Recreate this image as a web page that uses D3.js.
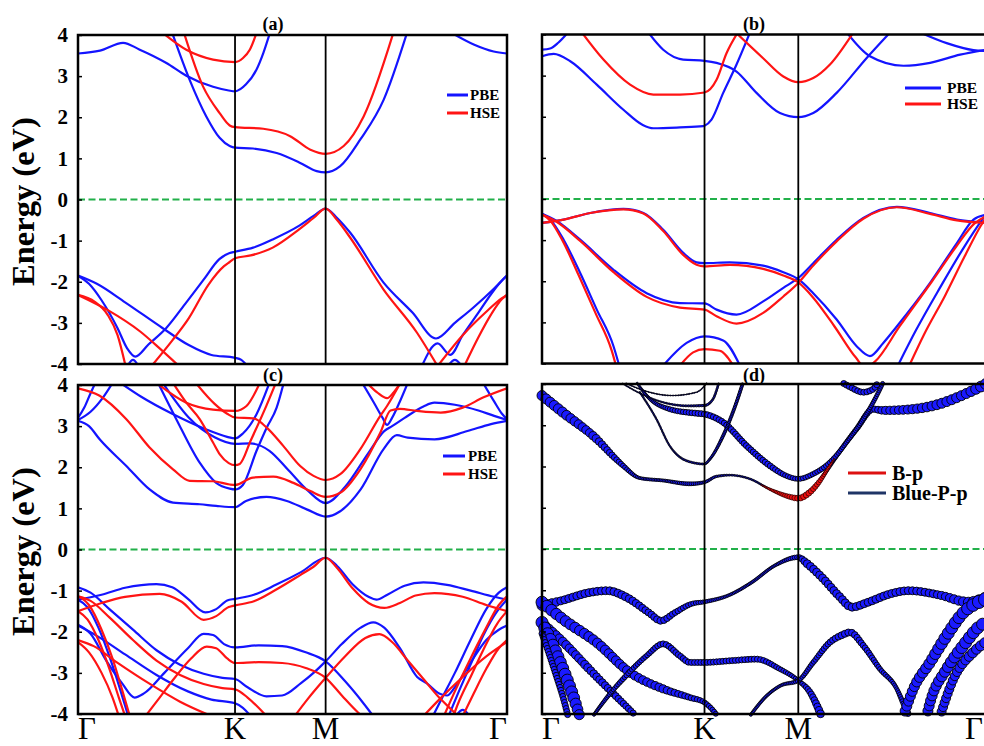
<!DOCTYPE html>
<html><head><meta charset="utf-8">
<script src="https://cdn.jsdelivr.net/npm/d3@7"></script>
<style>body{margin:0;background:#fff}svg{display:block}</style>
</head><body>
<svg id="chart" width="984" height="746"></svg>
<script>
// ---------- tick / label data ----------
const kTicks = [0, 1, 1.577, 2.732];
const kLabels = ["Γ", "K", "M", "Γ"];
const eTicks = [-4, -3, -2, -1, 0, 1, 2, 3, 4];
const panelTitles = ["(a)", "(b)", "(c)", "(d)"];
const legendAC = ["PBE", "HSE"];
const legendD = ["B-p", "Blue-P-p"];
const yTitle = "Energy (eV)";

// ---------- panel (a) ----------
const aPBE = [
 [[0,3.55],[0.14,3.62],[0.287,3.81],[0.39,3.65],[0.563,3.32],[0.69,3.01],[0.86,2.74],[0.96,2.65],[1.0,2.63],[1.07,2.8],[1.137,3.16],[1.18,3.56],[1.222,4.05]],
 [[2.38,4.05],[2.52,3.77],[2.647,3.6],[2.732,3.55]],
 [[0.6,4.05],[0.711,2.91],[0.817,2.02],[0.902,1.5],[0.966,1.3],[1.0,1.26],[1.115,1.24],[1.265,1.13],[1.415,0.89],[1.52,0.69],[1.577,0.66],[1.67,0.81],[1.798,1.46],[1.947,2.43],[2.095,4.05]],
 [[0,-1.85],[0.07,-2.05],[0.15,-2.45],[0.252,-3.13],[0.313,-3.62],[0.365,-3.82],[0.45,-3.52],[0.561,-3.13],[0.69,-2.5],[0.8,-1.95],[0.9,-1.45],[0.966,-1.3],[1.0,-1.27],[1.115,-1.17],[1.24,-0.97],[1.412,-0.63],[1.5,-0.4],[1.577,-0.22],[1.65,-0.45],[1.734,-0.81],[1.946,-2.02],[2.13,-2.75],[2.28,-3.38],[2.4,-3.0],[2.52,-2.62],[2.64,-2.2],[2.7,-1.97],[2.732,-1.85]],
 [[0,-1.85],[0.12,-2.05],[0.3,-2.5],[0.54,-3.13],[0.705,-3.54],[0.85,-3.78],[1.0,-3.85],[1.04,-3.9],[1.08,-4.05]],
 [[0.31,-4.08],[0.35,-3.9],[0.39,-4.08]],
 [[2.19,-4.05],[2.29,-3.5],[2.37,-3.78],[2.45,-3.3],[2.55,-2.75],[2.65,-2.2],[2.7,-1.97],[2.732,-1.85]],
 [[2.35,-4.08],[2.4,-3.9],[2.45,-4.08]]
];
const aHSE = [
 [[0.54,4.05],[0.69,3.64],[0.86,3.4],[1.0,3.34],[1.051,3.44],[1.094,3.64],[1.137,4.05]],
 [[0.675,4.05],[0.796,2.75],[0.902,2.1],[0.966,1.8],[1.0,1.76],[1.18,1.72],[1.351,1.54],[1.48,1.21],[1.577,1.11],[1.692,1.3],[1.819,2.02],[2.008,4.05]],
 [[0.468,-4.05],[0.602,-3.42],[0.705,-2.89],[0.829,-2.08],[0.93,-1.62],[0.966,-1.52],[1.0,-1.43],[1.1,-1.36],[1.24,-1.17],[1.4,-0.75],[1.5,-0.45],[1.577,-0.22],[1.65,-0.5],[1.734,-0.93],[1.946,-2.19],[2.159,-3.24],[2.29,-4.05]],
 [[0,-2.32],[0.19,-2.69],[0.396,-3.21],[0.52,-3.62],[0.643,-4.05]],
 [[0,-2.32],[0.107,-2.49],[0.19,-2.81],[0.252,-3.3],[0.303,-4.05]],
 [[2.29,-4.05],[2.45,-3.3],[2.6,-2.73],[2.7,-2.4],[2.732,-2.32]],
 [[2.46,-4.05],[2.55,-3.35],[2.63,-2.8],[2.7,-2.42],[2.732,-2.32]]
];

// ---------- panel (b) ----------
const bPBE = [
 [[0,3.63],[0.05,3.66],[0.1,3.8],[0.16,4.05]],
 [[0,3.47],[0.072,3.53],[0.174,3.35],[0.337,2.78],[0.501,2.17],[0.62,1.8],[0.685,1.72],[0.849,1.74],[0.992,1.77],[1.0,1.78],[1.043,1.93],[1.115,2.58],[1.197,3.27],[1.28,4.05]],
 [[0.654,4.05],[0.746,3.63],[0.869,3.39],[1.0,3.36],[1.074,3.31],[1.197,3.1],[1.32,2.58],[1.464,2.09],[1.577,1.99],[1.669,2.09],[1.813,2.58],[1.998,3.43],[2.142,4.05]],
 [[1.875,4.05],[2.018,3.47],[2.224,3.24],[2.388,3.31],[2.573,3.51],[2.732,3.63]],
 [[2.326,4.05],[2.49,3.79],[2.655,3.62],[2.732,3.6]],
 [[0,-0.58],[0.133,-0.5],[0.297,-0.34],[0.501,-0.24],[0.624,-0.34],[0.746,-0.75],[0.869,-1.31],[0.951,-1.54],[1.0,-1.56],[1.156,-1.54],[1.361,-1.62],[1.485,-1.78],[1.577,-1.95],[1.669,-2.29],[1.813,-2.93],[1.936,-3.58],[2.018,-3.82],[2.1,-3.5],[2.183,-3.1],[2.388,-2.04],[2.553,-1.07],[2.655,-0.5],[2.732,-0.38]],
 [[0,-0.36],[0.092,-0.54],[0.235,-0.99],[0.44,-1.72],[0.644,-2.29],[0.849,-2.53],[1.0,-2.54],[1.074,-2.69],[1.197,-2.81],[1.361,-2.49],[1.485,-2.16],[1.577,-1.92],[1.669,-1.56],[1.813,-0.99],[1.977,-0.46],[2.183,-0.19],[2.388,-0.34],[2.553,-0.5],[2.732,-0.57]],
 [[0,-0.36],[0.05,-0.5],[0.133,-0.99],[0.235,-1.8],[0.337,-2.69],[0.44,-3.58],[0.475,-4.05]],
 [[2.19,-4.05],[2.3,-3.2],[2.45,-2.15],[2.6,-1.15],[2.7,-0.55],[2.732,-0.38]],
 [[0.746,-4.05],[0.89,-3.5],[1.0,-3.34],[1.115,-3.44],[1.218,-4.05]]
];
const bHSE = [
 [[0.245,4.05],[0.378,3.39],[0.542,2.78],[0.685,2.54],[0.849,2.54],[1.0,2.59],[1.074,2.9],[1.136,3.55],[1.2,4.02]],
 [[1.2,4.02],[1.359,3.43],[1.485,2.98],[1.577,2.84],[1.669,2.94],[1.772,3.27],[1.916,4.05]],
 [[0,-0.58],[0.133,-0.5],[0.297,-0.34],[0.501,-0.25],[0.624,-0.35],[0.746,-0.78],[0.869,-1.36],[0.951,-1.6],[1.0,-1.64],[1.156,-1.6],[1.361,-1.7],[1.485,-1.86],[1.577,-2.03],[1.669,-2.4],[1.8,-3.1],[1.93,-3.85],[1.99,-4.1],[2.05,-3.95],[2.2,-3.1],[2.4,-2.0],[2.55,-1.15],[2.66,-0.6],[2.732,-0.42]],
 [[0,-0.38],[0.092,-0.56],[0.235,-1.02],[0.44,-1.78],[0.644,-2.38],[0.849,-2.64],[1.0,-2.69],[1.074,-2.85],[1.197,-3.03],[1.361,-2.77],[1.485,-2.37],[1.577,-2.04],[1.669,-1.62],[1.813,-1.03],[1.977,-0.48],[2.183,-0.2],[2.388,-0.36],[2.553,-0.52],[2.732,-0.58]],
 [[0,-0.38],[0.05,-0.52],[0.125,-1.0],[0.225,-1.85],[0.33,-2.78],[0.43,-3.7],[0.455,-4.05]],
 [[2.26,-4.05],[2.35,-3.3],[2.48,-2.35],[2.6,-1.4],[2.7,-0.65],[2.732,-0.45]],
 [[0.849,-4.05],[0.93,-3.73],[1.0,-3.65],[1.094,-3.69],[1.177,-4.05]]
];

// ---------- panel (c) ----------
const cPBE = [
 [[0,3.15],[0.08,3.35],[0.16,3.7],[0.22,4.05]],
 [[0,3.2],[0.04,3.45],[0.08,3.8],[0.11,4.05]],
 [[0,3.13],[0.07,3.0],[0.138,2.68],[0.308,2.03],[0.456,1.46],[0.605,1.14],[0.775,1.1],[0.88,1.06],[1.0,1.03],[1.07,1.18],[1.2,1.28],[1.33,1.18],[1.46,0.97],[1.577,0.8],[1.67,0.93],[1.8,1.46],[1.946,2.44],[2.03,2.78],[2.1,2.72],[2.27,2.68],[2.48,2.88],[2.63,3.05],[2.732,3.13]],
 [[0.51,4.05],[0.626,3.17],[0.775,2.11],[0.88,1.62],[0.966,1.48],[1.0,1.46],[1.05,1.57],[1.137,2.4],[1.2,2.95],[1.265,3.45],[1.31,4.05]],
 [[0.27,4.05],[0.4,3.72],[0.6,3.3],[0.81,2.93],[0.95,2.74],[1.0,2.7],[1.05,2.82],[1.137,3.29],[1.219,4.05]],
 [[0.54,4.05],[0.705,3.21],[0.87,2.73],[1.0,2.57],[1.096,2.58],[1.219,2.4],[1.342,1.92],[1.464,1.43],[1.577,1.13],[1.7,1.52],[1.85,2.35],[1.95,2.88],[2.0,3.0],[2.08,3.2],[2.2,3.48],[2.27,3.57],[2.4,3.52],[2.55,3.38],[2.65,3.25],[2.732,3.15]],
 [[1.81,4.05],[1.88,3.6],[1.94,3.2],[1.968,3.03],[2.0,3.2],[2.05,3.6],[2.1,4.05]],
 [[2.58,4.05],[2.65,3.6],[2.7,3.3],[2.732,3.17]],
 [[0,-1.22],[0.15,-1.1],[0.3,-0.93],[0.5,-0.84],[0.6,-0.92],[0.7,-1.2],[0.81,-1.53],[0.88,-1.45],[0.95,-1.24],[1.0,-1.2],[1.12,-1.1],[1.26,-0.86],[1.42,-0.55],[1.577,-0.2],[1.65,-0.4],[1.75,-0.85],[1.85,-1.15],[1.9,-1.22],[1.97,-1.1],[2.08,-0.88],[2.2,-0.8],[2.35,-0.86],[2.5,-1.0],[2.65,-1.15],[2.732,-1.22]],
 [[0,-0.92],[0.08,-1.05],[0.2,-1.45],[0.35,-1.95],[0.5,-2.45],[0.65,-2.8],[0.8,-3.02],[0.92,-3.12],[1.0,-3.15],[1.08,-3.35],[1.2,-3.57],[1.3,-3.55],[1.42,-3.25],[1.5,-3.0],[1.577,-2.72],[1.68,-2.3],[1.8,-1.9],[1.88,-1.77],[1.95,-1.9],[2.05,-2.4],[2.16,-3.1],[2.22,-3.25],[2.3,-3.5],[2.35,-3.55],[2.4,-3.35],[2.5,-2.75],[2.6,-2.2],[2.68,-1.95],[2.732,-1.85]],
 [[0,-1.85],[0.12,-2.1],[0.3,-2.55],[0.5,-3.05],[0.7,-3.45],[0.85,-3.65],[1.0,-3.74],[1.05,-3.85],[1.1,-4.05]],
 [[0,-1.22],[0.06,-1.4],[0.13,-1.9],[0.2,-2.6],[0.26,-3.3],[0.3,-3.8],[0.32,-4.05]],
 [[0,-1.83],[0.08,-2.05],[0.18,-2.7],[0.28,-3.25],[0.36,-3.6],[0.42,-3.5],[0.55,-3.0],[0.7,-2.4],[0.8,-2.05],[0.86,-2.08],[0.93,-2.3],[1.0,-2.38],[1.15,-2.33],[1.3,-2.35],[1.45,-2.5],[1.577,-2.72],[1.7,-3.2],[1.82,-3.75],[1.88,-4.05]],
 [[2.26,-4.05],[2.32,-3.6],[2.4,-3.0],[2.5,-2.2],[2.6,-1.45],[2.68,-1.05],[2.732,-0.92]],
 [[2.36,-4.05],[2.42,-3.5],[2.5,-2.8],[2.58,-2.1],[2.67,-1.5],[2.732,-1.22]],
 [[2.4,-4.08],[2.45,-3.9],[2.5,-4.08]]
];
const cHSE = [
 [[0,3.92],[0.138,3.74],[0.308,3.17],[0.456,2.48],[0.605,1.95],[0.711,1.67],[0.86,1.66],[0.966,1.58],[1.0,1.57],[1.115,1.75],[1.244,1.77],[1.372,1.62],[1.48,1.42],[1.577,1.28],[1.67,1.38],[1.798,1.95],[1.925,2.84],[1.99,3.38],[2.05,3.42],[2.159,3.37],[2.31,3.33],[2.45,3.45],[2.583,3.7],[2.732,3.92]],
 [[0.605,4.05],[0.69,3.57],[0.775,3.17],[0.86,2.6],[0.902,2.32],[0.96,2.1],[1.0,2.05],[1.03,2.08],[1.1,2.65],[1.2,3.5],[1.26,4.05]],
 [[0.75,4.05],[0.87,3.54],[0.95,3.3],[1.0,3.21],[1.115,3.19],[1.2,2.97],[1.307,2.52],[1.415,2.03],[1.5,1.79],[1.577,1.69],[1.67,1.83],[1.798,2.44],[1.925,3.25],[1.968,3.49],[2.053,4.05]],
 [[0.5,4.05],[0.69,3.57],[0.86,3.4],[1.0,3.37],[1.073,3.49],[1.158,4.05]],
 [[1.84,4.05],[1.905,3.82],[1.968,3.68],[2.01,3.82],[2.053,4.05]],
 [[0,-1.5],[0.15,-1.3],[0.3,-1.15],[0.52,-1.08],[0.66,-1.27],[0.8,-1.71],[0.88,-1.62],[0.96,-1.4],[1.0,-1.36],[1.12,-1.26],[1.26,-0.98],[1.42,-0.61],[1.5,-0.42],[1.577,-0.2],[1.65,-0.45],[1.75,-0.95],[1.85,-1.3],[1.95,-1.42],[2.05,-1.3],[2.15,-1.12],[2.27,-1.06],[2.45,-1.15],[2.6,-1.35],[2.732,-1.5]],
 [[0,-1.14],[0.08,-1.25],[0.2,-1.65],[0.35,-2.2],[0.5,-2.7],[0.65,-3.05],[0.8,-3.27],[0.92,-3.37],[1.0,-3.4],[1.08,-3.6],[1.15,-3.85],[1.2,-4.05]],
 [[1.38,-4.05],[1.46,-3.65],[1.577,-3.12],[1.7,-2.6],[1.83,-2.15],[1.92,-2.06],[2.0,-2.25],[2.1,-2.7],[2.2,-3.15],[2.3,-3.6],[2.38,-3.9],[2.42,-4.05]],
 [[0.43,-4.05],[0.52,-3.6],[0.62,-3.1],[0.72,-2.65],[0.82,-2.36],[0.88,-2.4],[0.95,-2.65],[1.0,-2.76],[1.15,-2.74],[1.3,-2.76],[1.45,-2.88],[1.577,-3.12],[1.68,-3.55],[1.78,-3.95],[1.81,-4.05]],
 [[0,-2.2],[0.1,-2.35],[0.25,-2.75],[0.45,-3.25],[0.65,-3.7],[0.85,-4.05]],
 [[0,-1.5],[0.06,-1.7],[0.13,-2.2],[0.2,-2.9],[0.26,-3.6],[0.3,-4.05]],
 [[0,-1.14],[0.07,-1.35],[0.15,-1.95],[0.22,-2.65],[0.28,-3.4],[0.33,-4.05]],
 [[0,-2.25],[0.07,-2.5],[0.15,-3.0],[0.22,-3.6],[0.26,-4.05]],
 [[2.33,-4.05],[2.4,-3.45],[2.5,-2.65],[2.6,-1.9],[2.68,-1.35],[2.732,-1.14]],
 [[2.39,-4.05],[2.42,-3.75],[2.5,-3.1],[2.58,-2.45],[2.67,-1.8],[2.732,-1.5]],
 [[2.45,-4.05],[2.52,-3.5],[2.6,-2.9],[2.68,-2.4],[2.732,-2.2]],
 [[2.2,-4.05],[2.3,-3.65],[2.45,-3.1],[2.6,-2.6],[2.732,-2.25]]
];

// ---------- panel (d): [k, E, Blue-P-p weight (marker radius)] ----------
const dBlueP = [
 [[0,3.72,5],[0.129,3.31,5],[0.335,2.67,4],[0.45,2.2,3],[0.499,2.02,2.5],[0.602,1.72,1.5],[0.747,1.66,1.5],[0.91,1.58,2],[1.0,1.62,1.5],[1.074,1.76,1.2],[1.156,1.79,0.9],[1.279,1.7,0.9],[1.402,1.45,0.9],[1.505,1.28,0.9],[1.577,1.23,1],[1.649,1.37,1],[1.731,1.78,1.5],[1.813,2.26,2],[1.936,2.91,2.5],[2.039,3.39,3],[2.1,3.36,4],[2.25,3.38,4.5],[2.45,3.52,5],[2.6,3.75,5],[2.732,4.0,5.5]],
 [[0.58,4.05,1],[0.663,3.64,1.5],[0.786,3.39,2.5],[0.95,3.29,3],[1.0,3.27,3],[1.115,3.07,3],[1.259,2.5,3],[1.402,2.02,3],[1.5,1.78,2.5],[1.577,1.7,2.5],[1.669,1.82,2.5],[1.772,2.1,2.5],[1.875,2.59,2],[1.977,3.15,2],[2.08,3.88,2],[2.1,4.05,2]],
 [[0.602,3.8,0.8],[0.704,3.15,0.8],[0.786,2.5,0.8],[0.889,2.14,1],[1.0,2.06,1],[1.033,2.18,1.2],[1.115,2.75,1.5],[1.197,3.56,1.5],[1.238,4.05,1.5]],
 [[0.48,4.05,0.6],[0.6,3.78,0.6],[0.75,3.55,0.8],[0.9,3.47,1],[1.0,3.48,1.2],[1.05,3.62,1],[1.09,4.05,1]],
 [[0.5,4.05,0.5],[0.62,3.85,0.5],[0.8,3.72,0.5],[0.95,3.8,0.5],[1.02,4.05,0.5]],
 [[1.84,4.05,3],[1.895,3.93,3],[1.977,3.8,3],[2.039,3.88,3],[2.07,4.05,3]],
 [[0,-1.37,5],[0.113,-1.26,4],[0.3,-1.05,4],[0.402,-1.01,4],[0.52,-1.17,4],[0.66,-1.55,3.5],[0.732,-1.74,3.5],[0.815,-1.55,3],[0.92,-1.33,2.5],[1.0,-1.28,2],[1.144,-1.13,1.5],[1.29,-0.81,1.5],[1.433,-0.4,1.5],[1.577,-0.2,2.5],[1.63,-0.35,4],[1.73,-0.72,4],[1.83,-1.15,4],[1.907,-1.41,4],[2.0,-1.3,4],[2.15,-1.08,4],[2.257,-1.01,4],[2.45,-1.12,4],[2.628,-1.29,5],[2.732,-1.22,7]],
 [[0,-1.29,6],[0.129,-1.7,5.5],[0.335,-2.26,5],[0.54,-2.99,4.5],[0.745,-3.39,4],[0.91,-3.6,3],[1.0,-3.72,2.5],[1.05,-3.9,2.5],[1.08,-4.05,2.5]],
 [[0,-1.78,4.5],[0.129,-2.25,4.5],[0.3,-2.95,4],[0.45,-3.55,3.5],[0.58,-4.05,3]],
 [[0,-1.78,6],[0.068,-2.34,6],[0.129,-2.91,6],[0.191,-3.56,6],[0.232,-4.05,5]],
 [[0,-2.05,3],[0.04,-2.5,3],[0.09,-3.1,3],[0.13,-3.6,3],[0.16,-4.05,3]],
 [[0.314,-4.05,1.5],[0.42,-3.5,2],[0.499,-3.15,2.5],[0.643,-2.59,2.5],[0.745,-2.3,3],[0.848,-2.59,3],[0.91,-2.75,3],[1.0,-2.75,3],[1.156,-2.71,3],[1.32,-2.67,3],[1.464,-2.91,2.5],[1.577,-3.19,2],[1.649,-3.47,3],[1.72,-4.05,4]],
 [[1.279,-4.05,1.5],[1.382,-3.56,1.5],[1.469,-3.31,1.5],[1.577,-3.19,2],[1.669,-2.75,2.5],[1.772,-2.26,3],[1.85,-2.08,3.5],[1.895,-2.02,3.5],[1.977,-2.34,3],[2.08,-2.91,2.5],[2.183,-3.39,2],[2.224,-3.75,2.5],[2.26,-4.05,3]],
 [[2.224,-4.05,5],[2.285,-3.39,5],[2.388,-2.75,5.5],[2.49,-2.1,6],[2.593,-1.54,6],[2.68,-1.3,6.5],[2.732,-1.22,7]],
 [[2.367,-4.05,5],[2.388,-3.72,5],[2.49,-2.91,5.5],[2.593,-2.34,6],[2.7,-1.85,6],[2.732,-1.78,6]],
 [[2.45,-4.05,4.5],[2.532,-3.15,4.5],[2.655,-2.5,5],[2.732,-2.25,5]]
];
const dBp = [
 [[1.35,1.55,0.6],[1.43,1.4,1.5],[1.52,1.27,2.5],[1.577,1.23,3],[1.64,1.35,3],[1.7,1.6,2.5],[1.76,1.95,1.5],[1.8,2.2,0.6]]
];

// ---------- drawing ----------
const SERIF = "'Liberation Serif','Times New Roman',Times,serif";
const BLUE = "#1414ff", RED = "#ff1414", GREEN = "#22b04a";
const svg = d3.select("#chart");
const defs = svg.append("defs");

const panels = [
 {key:"a", x0:78, x1:507, y0:35, y1:364, sets:[[aPBE,BLUE],[aHSE,RED]], yLab:true, xLab:false, title:panelTitles[0], tx:273, ty:30,
  leg:{x0:447,x1:468,y:95,dy:18,fs:15,tx:470,names:legendAC,colors:[BLUE,RED]}},
 {key:"b", x0:542, x1:986, y0:34.5, y1:363.5, sets:[[bPBE,BLUE],[bHSE,RED]], yLab:false, xLab:false, title:panelTitles[1], tx:754, ty:30,
  leg:{x0:905,x1:941,y:88,dy:16,fs:15.5,tx:947,names:legendAC,colors:[BLUE,RED]}},
 {key:"c", x0:78, x1:507, y0:385, y1:714, sets:[[cPBE,BLUE],[cHSE,RED]], yLab:true, xLab:true, title:panelTitles[2], tx:273, ty:381,
  leg:{x0:443,x1:465,y:456,dy:18,fs:15,tx:468,names:legendAC,colors:[BLUE,RED]}},
 {key:"d", x0:542, x1:986, y0:384, y1:714, sets:[], fat:true, yLab:false, xLab:true, title:panelTitles[3], tx:754, ty:381,
  leg:{x0:848,x1:886,y:473,dy:20,fs:20,tx:892,names:legendD,colors:["#dd1111","#1f3566"]}}
];

panels.forEach(p => {
  const x = d3.scaleLinear().domain([kTicks[0], kTicks[3]]).range([p.x0, p.x1]);
  const y = d3.scaleLinear().domain([-4, 4]).range([p.y1, p.y0]);
  const line = d3.line().x(d => x(d[0])).y(d => y(d[1])).curve(d3.curveMonotoneX);
  const cid = "clip-" + p.key;
  defs.append("clipPath").attr("id", cid).append("rect")
    .attr("x", p.x0).attr("y", p.y0).attr("width", p.x1 - p.x0).attr("height", p.y1 - p.y0);
  defs.append("clipPath").attr("id", cid + "w").append("rect")
    .attr("x", p.x0 - 7).attr("y", p.y0 - 7).attr("width", p.x1 - p.x0 + 14).attr("height", p.y1 - p.y0 + 14);
  const g = svg.append("g");
  const plot = g.append("g").attr("clip-path", `url(#${cid})`);

  p.sets.forEach(([bands, col]) => {
    plot.selectAll(null).data(bands.map(b => b.slice().sort((u, v) => u[0] - v[0])))
      .join("path").attr("d", line).attr("fill", "none")
      .attr("stroke", col).attr("stroke-width", 2.2).attr("stroke-linejoin", "round");
  });

  if (p.fat) {
    const circ = (bands, sink) => {
      bands.forEach(b => {
        const s = b.slice().sort((u, v) => u[0] - v[0]);
        const path = plot.append("path").datum(s.map(d => [d[0], d[1]])).attr("d", line)
          .attr("fill", "none").attr("stroke", "#111").attr("stroke-width", 1);
        const node = path.node(), L = node.getTotalLength();
        const r = d3.scaleLinear().domain(s.map(d => d[0])).range(s.map(d => d[2])).clamp(true);
        let t = 0;
        while (t <= L) {
          const pt = node.getPointAtLength(t);
          const rr = r(x.invert(pt.x));
          if (pt.x >= p.x0 - 1 && pt.x <= p.x1 + 1 && pt.y >= p.y0 - 1 && pt.y <= p.y1 + 1 && rr > 0.3)
            sink.push([pt.x, pt.y, rr]);
          t += Math.max(1.6, rr * 1.05);
        }
      });
    };
    const blues = [], reds = [];
    circ(dBlueP, blues);
    circ(dBp, reds);
    const cg = g.append("g").attr("clip-path", `url(#${cid}w)`);
    cg.selectAll(null).data(blues).join("circle")
      .attr("cx", d => d[0]).attr("cy", d => d[1]).attr("r", d => d[2])
      .attr("fill", "#1a1aff").attr("stroke", "#000").attr("stroke-width", 0.9);
    cg.selectAll(null).data(reds).join("circle")
      .attr("cx", d => d[0]).attr("cy", d => d[1]).attr("r", d => d[2])
      .attr("fill", "#ee1111").attr("stroke", "#200").attr("stroke-width", 0.7);
  }

  // Fermi level
  g.append("line").attr("x1", p.x0).attr("x2", Math.min(p.x1, 984)).attr("y1", y(0)).attr("y2", y(0))
    .attr("stroke", GREEN).attr("stroke-width", 2).attr("stroke-dasharray", "7,3.5");
  // high-symmetry lines
  g.selectAll(null).data(kTicks.slice(1, 3)).join("line")
    .attr("x1", d => x(d)).attr("x2", d => x(d)).attr("y1", p.y0).attr("y2", p.y1)
    .attr("stroke", "#000").attr("stroke-width", 1.8);
  // frame
  g.append("rect").attr("x", p.x0).attr("y", p.y0).attr("width", p.x1 - p.x0).attr("height", p.y1 - p.y0)
    .attr("fill", "none").attr("stroke", "#000").attr("stroke-width", 2.5);

  // y axis (inward ticks)
  const ax = d3.axisLeft(y).tickValues(eTicks).tickSizeInner(-4).tickSizeOuter(0).tickPadding(10)
    .tickFormat(p.yLab ? (d => String(d)) : "");
  const ag = g.append("g").attr("transform", `translate(${p.x0},0)`).call(ax);
  ag.select(".domain").remove();
  ag.selectAll(".tick line").attr("stroke", "#000").attr("stroke-width", 1.5);
  ag.selectAll(".tick text").attr("font-family", SERIF).attr("font-weight", "bold")
    .attr("font-size", 21).attr("fill", "#000");

  if (p.yLab) {
    g.append("text").attr("transform", `translate(33.5,${(p.y0 + p.y1) / 2 + 2}) rotate(-90)`)
      .attr("text-anchor", "middle").attr("font-family", SERIF).attr("font-weight", "bold")
      .attr("font-size", 32.5).text(yTitle);
  }
  if (p.xLab) {
    g.selectAll(null).data(kTicks).join("text")
      .attr("x", (d, i) => i === 3 ? Math.min(x(d), 983) : x(d))
      .attr("y", 739)
      .attr("text-anchor", (d, i) => i === 0 ? "start" : (i === 3 ? "end" : "middle"))
      .attr("font-family", SERIF).attr("font-size", 31)
      .text((d, i) => kLabels[i]);
  }
  // panel title
  g.append("text").attr("x", p.tx).attr("y", p.ty).attr("text-anchor", "middle")
    .attr("font-family", SERIF).attr("font-weight", "bold").attr("font-size", 18).text(p.title);

  // legend
  const lg = g.append("g");
  p.leg.names.forEach((nm, i) => {
    const yy = p.leg.y + i * p.leg.dy;
    lg.append("line").attr("x1", p.leg.x0).attr("x2", p.leg.x1).attr("y1", yy).attr("y2", yy)
      .attr("stroke", p.leg.colors[i]).attr("stroke-width", 3);
    lg.append("text").attr("x", p.leg.tx).attr("y", yy + p.leg.fs * 0.33)
      .attr("font-family", SERIF).attr("font-weight", "bold").attr("font-size", p.leg.fs).text(nm);
  });
});
</script>
</body></html>
